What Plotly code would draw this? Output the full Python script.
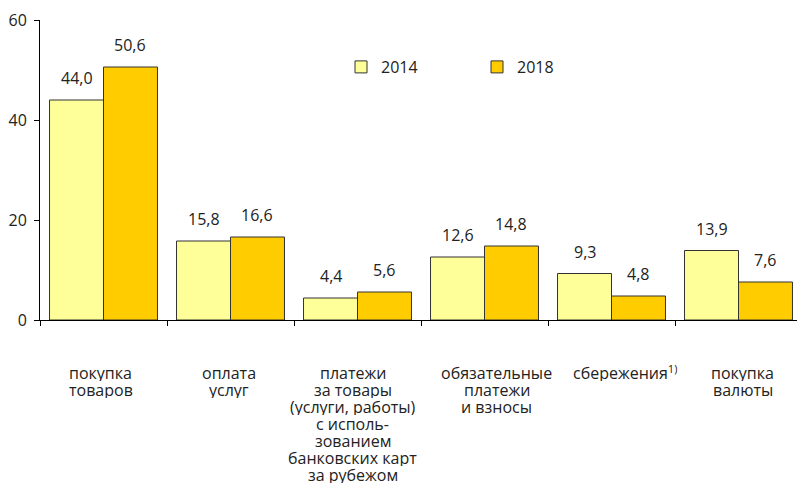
import plotly.graph_objects as go

categories = ["покупка товаров", "оплата услуг", "платежи за товары", "обязательные платежи", "сбережения", "покупка валюты"]
category_lines = [
    ["покупка", "товаров"],
    ["оплата", "услуг"],
    ["платежи", "за товары", "(услуги, работы)", "с исполь-", "зованием", "банковских карт", "за рубежом"],
    ["обязательные", "платежи", "и взносы"],
    ["сбережения<sup>1)</sup>"],
    ["покупка", "валюты"],
]
series_names = ["2014", "2018"]
values_2014 = [44.0, 15.8, 4.4, 12.6, 9.3, 13.9]
values_2018 = [50.6, 16.6, 5.6, 14.8, 4.8, 7.6]
y_ticks = [0, 20, 40, 60]

# small horizontal nudges (px) of the category captions, as in the original layout
caption_nudge = [-3, -2, -5, 12, 14, 4]

colors = ["#FFFF99", "#FFCC00"]
FONT = "Open Sans"
FS = 16
TXT = "#222222"
W, H = 797, 485
ML, MR, MT, MB = 40, 0, 20, 165
bargap = 0.15
cat_px = 127.0
plot_w = W - ML - MR
plot_h = H - MT - MB
x_max = -0.5 + plot_w / cat_px

fig = go.Figure()
for name, vals, col in zip(series_names, [values_2014, values_2018], colors):
    fig.add_trace(go.Bar(
        x=categories, y=vals, name=name,
        marker=dict(color=col, line=dict(color="#333333", width=1)),
    ))

bar_px = cat_px * (1 - bargap) / 2
annotations = []
for k, vals in enumerate([values_2014, values_2018]):
    shift = (k - 0.5) * bar_px
    for c, v in zip(categories, vals):
        annotations.append(dict(
            x=c, y=v, xref="x", yref="y", text=f"{v:.1f}".replace(".", ","),
            showarrow=False, xshift=shift, yshift=22, yanchor="middle",
            font=dict(family=FONT, size=FS, color=TXT),
        ))

for c, lines, dx in zip(categories, category_lines, caption_nudge):
    for j, line in enumerate(lines):
        annotations.append(dict(
            x=c, y=0, xref="x", yref="y", text=line, showarrow=False,
            xshift=dx, yshift=-(52 + 17 * j), yanchor="middle", height=17,
            font=dict(family=FONT, size=FS, color=TXT),
        ))

fig.update_layout(
    width=W, height=H,
    margin=dict(l=ML, r=MR, t=MT, b=MB, pad=0, autoexpand=False),
    paper_bgcolor="white", plot_bgcolor="white",
    barmode="group", bargap=bargap, bargroupgap=0,
    font=dict(family=FONT, size=FS, color=TXT),
    showlegend=True,
    legend=dict(
        orientation="h", x=(341 - ML) / plot_w, y=1 - (67 - MT) / plot_h,
        xanchor="left", yanchor="middle", xref="paper", yref="paper",
        font=dict(family=FONT, size=FS, color=TXT),
        entrywidth=91, bgcolor="rgba(0,0,0,0)", traceorder="normal",
    ),
    annotations=annotations,
)
fig.update_xaxes(
    type="category", range=[-0.5, x_max], showline=True, linecolor="black", linewidth=1,
    ticks="outside", tickson="boundaries", ticklen=5, tickcolor="black",
    showticklabels=False, showgrid=False, zeroline=False, automargin=False,
)
fig.update_yaxes(
    range=[0, 60], tickvals=y_ticks, showline=True, linecolor="black", linewidth=1,
    ticks="outside", ticklen=5, tickcolor="black", ticklabelstandoff=4,
    showgrid=False, zeroline=False, automargin=False,
    tickfont=dict(family=FONT, size=FS, color=TXT),
)
fig.write_html(
    "out.html",
    config={"displayModeBar": False},
    post_script="document.body.style.margin='0';document.body.style.overflow='hidden';",
)
